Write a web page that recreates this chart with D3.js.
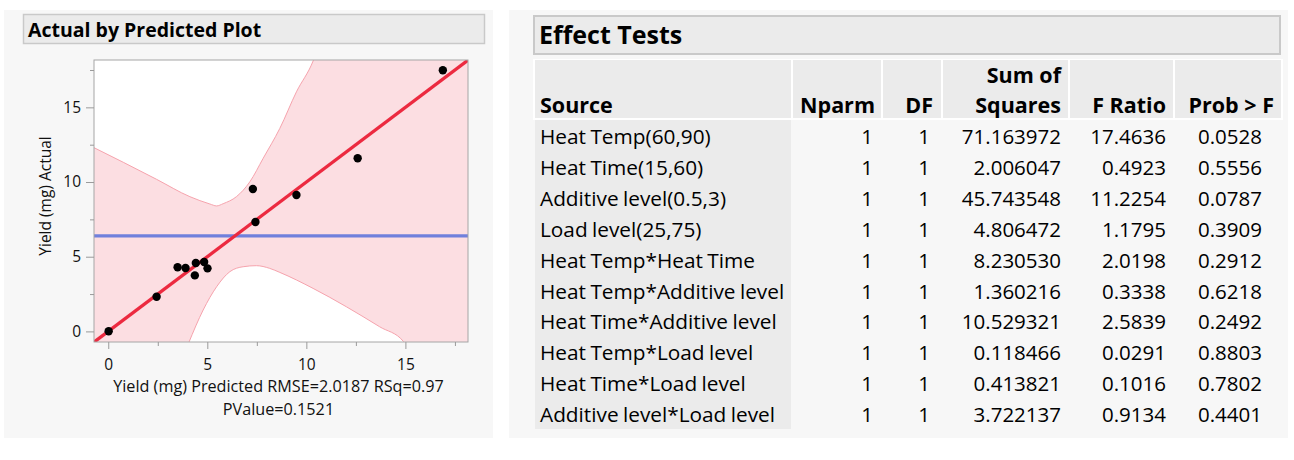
<!DOCTYPE html>
<html><head><meta charset="utf-8">
<script src="https://cdn.jsdelivr.net/npm/d3@7"></script>
<style>
html,body{margin:0;padding:0;background:#fff;}
svg{display:block;font-family:"Open Sans",sans-serif;}
</style></head><body>
<svg id="c" width="1294" height="460"></svg>
<script>
// ---------- data: Actual by Predicted ----------
const predicted = [0.02, 2.44, 3.50, 3.90, 4.37, 4.42, 4.84, 5.01, 7.30, 7.43, 9.50, 12.59, 16.89];
const actual    = [0.01, 2.32, 4.29, 4.24, 3.75, 4.58, 4.65, 4.22, 9.53, 7.32, 9.13, 11.59, 17.48];
const meanActual = 6.39;
const upperBandX = [-0.72, 0.76, 2.44, 4.12, 5.13, 5.47, 5.80, 6.47, 7.15, 7.82, 8.66, 9.50, 10.34, 10.40];
const upperBandY = [12.30, 11.32, 10.18, 9.02, 8.53, 8.40, 8.55, 9.02, 10.02, 11.59, 13.59, 16.04, 18.10, 18.30];
const lowerBandX = [4.05, 4.79, 5.47, 6.14, 6.81, 7.48, 8.15, 8.66, 10.34, 12.02, 13.70, 14.91, 14.95];
const lowerBandY = [-0.80, 1.43, 2.99, 4.00, 4.33, 4.40, 4.22, 3.95, 2.88, 1.65, 0.31, -0.69, -0.80];
const majorTicks = [0, 5, 10, 15];
const minorTicks = [2.5, 7.5, 12.5, 17.5];
const xDomain = [-0.72, 18.16];
const yDomain = [-0.71, 18.17];
const plotTitle = "Actual by Predicted Plot";
const yLabel = "Yield (mg) Actual";
const xLabel1 = "Yield (mg) Predicted RMSE=2.0187 RSq=0.97";
const xLabel2 = "PValue=0.1521";

// ---------- data: Effect Tests ----------
const tableTitle = "Effect Tests";
const sources = ["Heat Temp(60,90)", "Heat Time(15,60)", "Additive level(0.5,3)", "Load level(25,75)",
  "Heat Temp*Heat Time", "Heat Temp*Additive level", "Heat Time*Additive level",
  "Heat Temp*Load level", "Heat Time*Load level", "Additive level*Load level"];
const nparm = [1, 1, 1, 1, 1, 1, 1, 1, 1, 1];
const dfs = [1, 1, 1, 1, 1, 1, 1, 1, 1, 1];
const sumSquares = [71.163972, 2.006047, 45.743548, 4.806472, 8.230530, 1.360216, 10.529321, 0.118466, 0.413821, 3.722137];
const fRatio = [17.4636, 0.4923, 11.2254, 1.1795, 2.0198, 0.3338, 2.5839, 0.0291, 0.1016, 0.9134];
const probF = [0.0528, 0.5556, 0.0787, 0.3909, 0.2912, 0.6218, 0.2492, 0.8803, 0.7802, 0.4401];
const headers = [["", "Source"], ["", "Nparm"], ["", "DF"], ["Sum of", "Squares"], ["", "F Ratio"], ["", "Prob > F"]];

const svg = d3.select("#c");

// ================= LEFT PANEL =================
svg.append("rect").attr("x", 4).attr("y", 10).attr("width", 489).attr("height", 428).attr("fill", "#f7f7f7");
svg.append("rect").attr("x", 23.5).attr("y", 14.5).attr("width", 461).attr("height", 29)
  .attr("fill", "#ebebeb").attr("stroke", "#c9c9c9").attr("stroke-width", 1.5);
svg.append("text").attr("x", 28).attr("y", 36.5).attr("font-size", 19.5).attr("font-weight", 700)
  .attr("fill", "#000").text(plotTitle);

const x = d3.scaleLinear().domain(xDomain).range([94, 468]);
const y = d3.scaleLinear().domain(yDomain).range([342, 60]);

svg.append("clipPath").attr("id", "clip").append("rect")
  .attr("x", 94).attr("y", 60).attr("width", 374).attr("height", 282);
const plot = svg.append("g").attr("clip-path", "url(#clip)");

plot.append("rect").attr("x", 94).attr("y", 60).attr("width", 374).attr("height", 282).attr("fill", "#fcdee2");

const upper = upperBandX.map((v, i) => [v, upperBandY[i]]);
const lower = lowerBandX.map((v, i) => [v, lowerBandY[i]]);
const curve = d3.curveMonotoneX;

plot.append("path").datum(upper).attr("fill", "#fff")
  .attr("d", d3.area().x(d => x(d[0])).y0(y(yDomain[1]) - 5).y1(d => y(d[1])).curve(curve));
plot.append("path").datum(lower).attr("fill", "#fff")
  .attr("d", d3.area().x(d => x(d[0])).y0(y(yDomain[0]) + 5).y1(d => y(d[1])).curve(curve));
const bandLine = d3.line().x(d => x(d[0])).y(d => y(d[1])).curve(curve);
plot.append("path").datum(upper).attr("fill", "none").attr("stroke", "#f6a3ad").attr("stroke-width", 1).attr("d", bandLine);
plot.append("path").datum(lower).attr("fill", "none").attr("stroke", "#f6a3ad").attr("stroke-width", 1).attr("d", bandLine);

plot.append("line").attr("x1", x(xDomain[0])).attr("x2", x(xDomain[1]))
  .attr("y1", y(meanActual)).attr("y2", y(meanActual))
  .attr("stroke", "#7080dc").attr("stroke-width", 3.3);
plot.append("line").attr("x1", x(xDomain[0])).attr("y1", y(xDomain[0]))
  .attr("x2", x(xDomain[1])).attr("y2", y(xDomain[1]))
  .attr("stroke", "#ec2a40").attr("stroke-width", 3.3);

plot.selectAll("circle").data(predicted).join("circle")
  .attr("cx", d => x(d)).attr("cy", (d, i) => y(actual[i])).attr("r", 4.2).attr("fill", "#000");

svg.append("rect").attr("x", 94).attr("y", 60).attr("width", 374).attr("height", 282)
  .attr("fill", "none").attr("stroke", "#a6a6a6").attr("stroke-width", 1);

function styleAxis(g) {
  g.select(".domain").remove();
  g.selectAll(".tick line").attr("stroke", "#9a9a9a");
  g.selectAll(".tick text").attr("font-size", 15.5).attr("fill", "#111").attr("font-family", "Open Sans");
}
svg.append("g").attr("transform", "translate(0,342)")
  .call(d3.axisBottom(x).tickValues(majorTicks).tickSize(7).tickPadding(10).tickFormat(d3.format("d")))
  .call(styleAxis);
svg.append("g").attr("transform", "translate(0,342)")
  .call(d3.axisBottom(x).tickValues(minorTicks).tickSize(4).tickFormat(""))
  .call(styleAxis);
svg.append("g").attr("transform", "translate(94,0)")
  .call(d3.axisLeft(y).tickValues(majorTicks).tickSize(8).tickPadding(5).tickFormat(d3.format("d")))
  .call(styleAxis);
svg.append("g").attr("transform", "translate(94,0)")
  .call(d3.axisLeft(y).tickValues(minorTicks).tickSize(4).tickFormat(""))
  .call(styleAxis);

svg.append("text").attr("transform", "translate(50.5,196) rotate(-90)").attr("text-anchor", "middle")
  .attr("font-size", 15.5).attr("fill", "#111").text(yLabel);
svg.append("text").attr("x", 278.5).attr("y", 392).attr("text-anchor", "middle")
  .attr("font-size", 16.2).attr("fill", "#111").text(xLabel1);
svg.append("text").attr("x", 278.5).attr("y", 415).attr("text-anchor", "middle")
  .attr("font-size", 16.2).attr("fill", "#111").text(xLabel2);

// ================= RIGHT PANEL =================
svg.append("rect").attr("x", 509).attr("y", 10).attr("width", 779).attr("height", 428).attr("fill", "#f7f7f7");
svg.append("rect").attr("x", 534).attr("y", 16).attr("width", 746).attr("height", 38)
  .attr("fill", "#ebebeb").attr("stroke", "#c9c9c9").attr("stroke-width", 2);
svg.append("text").attr("x", 539).attr("y", 43.5).attr("font-size", 25).attr("font-weight", 700)
  .attr("fill", "#000").text(tableTitle);

const colLeft  = [535, 793, 883, 943, 1070, 1175];
const colRight = [791, 881, 941, 1068, 1173, 1281];
const headAnchor = [540, 875, 933, 1061, 1166, 1274];
const valAnchor  = [540, 873, 930, 1061, 1166, 1262];

svg.append("rect").attr("x", 533).attr("y", 59).attr("width", 750).attr("height", 61).attr("fill", "#fff");
const hdr = svg.append("g");
hdr.selectAll("rect").data(headers).join("rect")
  .attr("x", (d, i) => colLeft[i]).attr("y", 60)
  .attr("width", (d, i) => colRight[i] - colLeft[i]).attr("height", 58).attr("fill", "#ebebeb");
headers.forEach((h, i) => {
  const t = hdr.append("text").attr("x", headAnchor[i]).attr("font-size", 21.5).attr("font-weight", 700)
    .attr("fill", "#000").attr("text-anchor", i === 0 ? "start" : "end");
  if (h[0]) hdr.append("text").attr("x", headAnchor[i]).attr("y", 82.5).attr("font-size", 21.5)
    .attr("font-weight", 700).attr("fill", "#000").attr("text-anchor", "end").text(h[0]);
  t.attr("y", 112.5).text(h[1]);
});

const row = d3.scaleBand().domain(d3.range(sources.length)).range([120, 429]);
svg.append("rect").attr("x", colLeft[0]).attr("y", 120).attr("width", colRight[0] - colLeft[0]).attr("height", 309)
  .attr("fill", "#ebebeb");

const columns = [
  sources,
  nparm.map(d3.format("d")),
  dfs.map(d3.format("d")),
  sumSquares.map(d3.format(".6f")),
  fRatio.map(d3.format(".4f")),
  probF.map(d3.format(".4f"))
];
const body = svg.append("g").attr("fill", "#000");
columns.forEach((col, ci) => {
  body.selectAll(null).data(col).join("text")
    .attr("x", valAnchor[ci]).attr("y", (d, i) => row(i) + 24)
    .attr("font-size", ci === 0 ? 20.8 : 20.5)
    .attr("text-anchor", ci === 0 ? "start" : "end")
    .attr("word-spacing", ci === 0 ? -1 : 0)
    .text(d => d);
});
</script>
</body></html>
